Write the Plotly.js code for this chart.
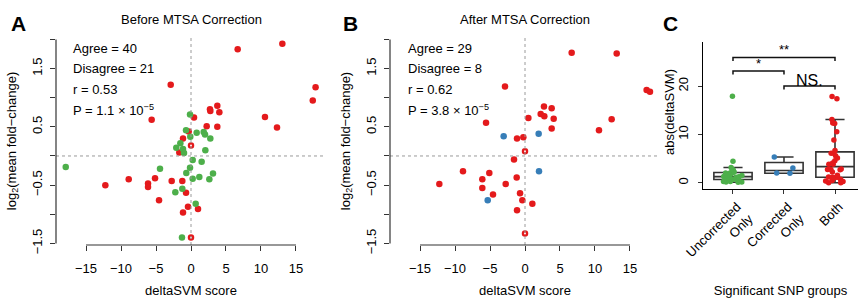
<!DOCTYPE html>
<html><head><meta charset="utf-8">
<script src="https://cdn.plot.ly/plotly-3.0.1.min.js"></script>
<style>body{margin:0;background:#fff}#chart{width:858px;height:299px}</style>
</head><body><div id="chart"></div>
<script>
// ---- Panel A: Before MTSA Correction ----
var aBothX = [13.05, 6.67, 17.8, 17.4, -2.9, 3.76, 2.71, 2.76, 4.05, 10.57, 12.29, -5.62, 0.43, 2.24, 3.76, -0.33, -1.14, -1.67, -12.24, -8.9, -5.14, -6.14, -6.14, -2.76, -1.24, -0.71, -4.57, -0.43, 1.0, -1.14];
var aBothY = [1.925, 1.83, 1.18, 0.95, 1.22, 0.86, 0.80, 0.77, 0.75, 0.67, 0.49, 0.62, 0.66, 0.51, 0.50, 0.42, 0.30, 0.06, -0.50, -0.40, -0.38, -0.47, -0.53, -0.43, -0.43, -0.63, -0.76, -0.87, -0.91, -0.97];
var aZeroX = [0, 0];
var aZeroY = [0.18, -1.40];
var aUncorrX = [-0.14, -17.9, -0.71, -0.1, 0.81, 1.81, 2.0, 2.76, -1.52, -2.1, -1.14, -1.0, 2.05, 0.24, 1.52, -0.14, -4.43, -0.67, 1.19, 0.24, 3.14, 2.62, -1.24, -2.24, 0.67, -1.29];
var aUncorrY = [0.71, -0.19, 0.44, 0.33, 0.40, 0.41, 0.37, 0.30, 0.22, 0.14, 0.12, 0.05, 0.10, -0.07, -0.10, -0.20, -0.22, -0.29, -0.36, -0.39, -0.30, -0.40, -0.56, -0.62, -0.82, -1.40];
var aStats = ["Agree = 40", "Disagree = 21", "r = 0.53", "P = 1.1 \u00d7 10<sup>\u22125</sup>"];

// ---- Panel B: After MTSA Correction ----
var bBothX = [6.67, 13.1, 17.38, 17.86, -2.86, 2.71, 3.81, 2.24, 2.76, 4.1, 0.48, 12.38, -5.57, 3.81, 10.57, -1.14, -0.24, -1.57, -8.86, -5.1, -6.1, -12.24, -2.76, -1.19, -6.1, -4.57, -0.71, -0.38, 1.05, -1.14];
var bBothY = [1.77, 1.76, 1.13, 1.10, 1.19, 0.85, 0.82, 0.72, 0.68, 0.64, 0.65, 0.63, 0.57, 0.47, 0.44, 0.30, 0.32, -0.06, -0.26, -0.29, -0.40, -0.48, -0.48, -0.37, -0.55, -0.66, -0.64, -0.76, -0.82, -0.93];
var bZeroX = [0, 0];
var bZeroY = [0.08, -1.33];
var bCorrX = [-3.05, 1.95, 2.0, -5.33];
var bCorrY = [0.34, 0.38, -0.26, -0.76];
var bStats = ["Agree = 29", "Disagree = 8", "r = 0.62", "P = 3.8 \u00d7 10<sup>\u22125</sup>"];

// ---- Panel C ----
var cGroups = ["Uncorrected<br>Only", "Corrected<br>Only", "Both"];
var cUncorr = aUncorrX.map(Math.abs);
var cCorr = bCorrX.map(Math.abs);
var cBoth = bBothX.concat(bZeroX).map(Math.abs);

var xTicks = [-15, -10, -5, 0, 5, 10, 15];
var yTicks = [-1.5, -0.5, 0.5, 1.5];
var yTickText = ["\u22121.5", "\u22120.5", "0.5", "1.5"];
var yMinorTicks = [-1, 0, 1, 2];

var RED = "#E41A1C", GREEN = "#4DAF4A", BLUE = "#377EB8";
var FONT = "Liberation Sans, Arial, Helvetica, sans-serif";
var W = 858, H = 299;
function px(x) { return x / W; }
function py(y) { return (H - y) / H; }

function sc(x, y, xa, ya, color) {
  return {type: "scatter", mode: "markers", x: x, y: y, xaxis: xa, yaxis: ya,
    marker: {color: color, size: 6.5}, hoverinfo: "x+y"};
}
function ring(x, y, xa, ya) {
  return {type: "scatter", mode: "markers", x: x, y: y, xaxis: xa, yaxis: ya,
    marker: {color: "white", size: 4.2, line: {color: RED, width: 2.3}}};
}
function box(vals, pos, color) {
  return {type: "box", y: vals, x0: pos, xaxis: "x3", yaxis: "y3", width: 0.75,
    boxpoints: "all", jitter: 0.6, pointpos: 0, fillcolor: "white",
    line: {color: "#333333", width: 1.6},
    marker: {color: color, size: 5.5}};
}

var data = [
  sc(aBothX, aBothY, "x", "y", RED),
  ring(aZeroX, aZeroY, "x", "y"),
  sc(aUncorrX, aUncorrY, "x", "y", GREEN),
  sc(bBothX, bBothY, "x2", "y2", RED),
  ring(bZeroX, bZeroY, "x2", "y2"),
  sc(bCorrX, bCorrY, "x2", "y2", BLUE),
  box(cUncorr, 1, GREEN),
  box(cCorr, 2, BLUE),
  box(cBoth, 3, RED)
];

var yRange = [-1.527, 2.041];
var yDom = [py(245), py(37)];
function xAxis(dom) {
  return {domain: dom, range: [-19.29, 19.29], tickvals: xTicks, ticks: "outside", ticklen: 5,
    tickcolor: "#333", tickwidth: 1, showgrid: false, zeroline: false, showline: false,
    tickfont: {size: 13, color: "#000"}, ticklabelstandoff: 6,
    title: {text: "deltaSVM score", font: {size: 13, color: "#000"}, standoff: 11}};
}
function yAxis(xa) {
  return {domain: yDom, anchor: xa, range: yRange, tickvals: yTicks, ticktext: yTickText,
    tickangle: -90, ticks: "outside", ticklen: 5, tickcolor: "#333", showgrid: false,
    minor: {tickvals: yMinorTicks, ticks: "outside", ticklen: 5, tickcolor: "#333", showgrid: false},
    zeroline: false, showline: false, tickfont: {size: 13, color: "#000"}, ticklabelstandoff: 3,
    title: {text: "log<sub>2</sub>(mean fold\u2212change)", font: {size: 13, color: "#000"}, standoff: 10}};
}

var xa1 = xAxis([px(56), px(326)]); xa1.anchor = "y";
var xa2 = xAxis([px(390), px(660)]); xa2.anchor = "y2";

var shapes = [];
function panelShapes(xa, ya, left) {
  var xd = xa + " domain";
  var yd = ya + " domain";
  shapes.push({type: "line", xref: xd, yref: ya, x0: 0, x1: 1, y0: 0, y1: 0,
    line: {color: "#9a9a9a", width: 1, dash: "dot"}});
  shapes.push({type: "line", xref: xa, yref: yd, x0: 0, x1: 0, y0: 0, y1: 1,
    line: {color: "#9a9a9a", width: 1, dash: "dot"}});
  shapes.push({type: "line", xref: xa, yref: "paper", x0: -15, x1: 15, y0: yDom[0], y1: yDom[0],
    line: {color: "#333", width: 1.2}});
  shapes.push({type: "line", xref: "paper", yref: ya, x0: left, x1: left, y0: -1.5, y1: 2,
    line: {color: "#333", width: 1.2}});
}
panelShapes("x", "y", px(56));
panelShapes("x2", "y2", px(390));

// significance brackets in panel C
["M1,25.2 L1,25.9 L3,25.9 L3,25.2", "M1,22.4 L1,23.1 L2,23.1 L2,22.4", "M2,19.3 L2,20.0 L3,20.0 L3,19.3"]
  .forEach(function (p) {
    shapes.push({type: "path", xref: "x3", yref: "y3", path: p, line: {color: "#111", width: 1.5}});
  });

var annotations = [];
function ann(x, y, text, size, opts) {
  var a = {xref: "paper", yref: "paper", x: px(x), y: py(y), text: text, showarrow: false,
    font: {size: size, color: "#000", family: FONT}, xanchor: "center", yanchor: "middle"};
  for (var k in opts) a[k] = opts[k];
  annotations.push(a);
}
var bold = {size: 21, color: "#000", family: FONT, weight: "bold"};
ann(18, 24, "A", 21, {font: bold});
ann(350, 24, "B", 21, {font: bold});
ann(670, 24, "C", 21, {font: bold});
ann(191, 20, "Before MTSA Correction", 13);
ann(525, 20, "After MTSA Correction", 13);
var statY = [48, 68.5, 89, 110];
aStats.forEach(function (t, i) { ann(71, statY[i], t, 13, {xanchor: "left"}); });
bStats.forEach(function (t, i) { ann(406, statY[i], t, 13, {xanchor: "left"}); });
ann(670, 112, "abs(deltaSVM)", 13, {textangle: -90});
annotations.push({xref: "x3", yref: "y3", x: 2, y: 25.9, text: "**", showarrow: false, yanchor: "bottom",
  yshift: -1, font: {size: 13, color: "#000", family: FONT}});
annotations.push({xref: "x3", yref: "y3", x: 1.5, y: 23.1, text: "*", showarrow: false, yanchor: "bottom",
  yshift: -2, font: {size: 13, color: "#000", family: FONT}});
annotations.push({xref: "x3", yref: "y3", x: 2.5, y: 20.0, text: "NS.", showarrow: false, yanchor: "bottom",
  yshift: -5, font: {size: 16, color: "#000", family: FONT}});

var layout = {
  width: W, height: H, margin: {l: 0, r: 0, t: 0, b: 0},
  paper_bgcolor: "white", plot_bgcolor: "white", showlegend: false,
  font: {family: FONT, size: 13, color: "#000"},
  xaxis: xa1, yaxis: yAxis("x"),
  xaxis2: xa2, yaxis2: yAxis("x2"),
  xaxis3: {domain: [px(703), 1], anchor: "y3", range: [0.412, 3.451], tickvals: [1, 2, 3], ticktext: cGroups,
    tickangle: -45, ticks: "outside", ticklen: 4, tickcolor: "#333", showline: true, linecolor: "#000",
    linewidth: 1.2, showgrid: false, zeroline: false, tickfont: {size: 13, color: "#000"}, ticklabelshift: 4,
    title: {text: "Significant SNP groups", font: {size: 13, color: "#000"}, standoff: 14}},
  yaxis3: {domain: [py(189), py(41.7)], anchor: "x3", range: [-1.3, 29.19], tickvals: [0, 10, 20],
    tickangle: -90, ticks: "outside", ticklen: 4, tickcolor: "#333", showline: true, linecolor: "#000",
    linewidth: 1.2, showgrid: false, zeroline: false, tickfont: {size: 13, color: "#000"}, ticklabelstandoff: 5},
  shapes: shapes, annotations: annotations
};

Plotly.newPlot("chart", data, layout, {staticPlot: true, displayModeBar: false});
</script></body></html>
